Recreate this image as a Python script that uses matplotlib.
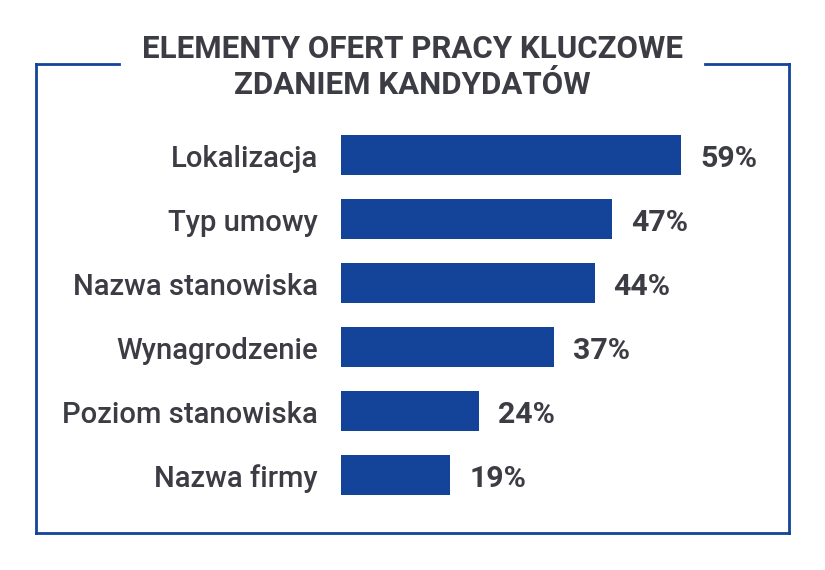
import matplotlib.pyplot as plt
from matplotlib.lines import Line2D

plt.rcParams["font.family"] = ["Roboto", "DejaVu Sans"]

categories = ["Lokalizacja", "Typ umowy", "Nazwa stanowiska", "Wynagrodzenie",
              "Poziom stanowiska", "Nazwa firmy"]
values = [59, 47, 44, 37, 24, 19]
title_lines = ["ELEMENTY OFERT PRACY KLUCZOWE", "ZDANIEM KANDYDATÓW"]

blue = "#13449a"
text_col = "#3c3c44"

W, H = 825, 570
fig = plt.figure(figsize=(W / 100, H / 100), dpi=100)
fig.patch.set_facecolor("white")

# axes placed in pixel terms: bars start at x=341, 59% ends at x=681
left, right = 341, 341 + 80 * 340 / 59
top, bottom = 135, 495
ax = fig.add_axes([left / W, (H - bottom) / H, (right - left) / W, (bottom - top) / H])
ax.set_xlim(0, 80)
ax.set_ylim(len(values) - 1 + 0.3125, -0.3125)
ax.axis("off")

ypos = list(range(len(values)))
ax.barh(ypos, values, height=0.625, color=blue)

unit = 59 / 340  # data units per pixel
for y, cat, v in zip(ypos, categories, values):
    ax.text(-23 * unit, y + 0.18, cat, ha="right", va="baseline",
            fontsize=21.1, fontweight="medium", color=text_col, clip_on=False)
    ax.text(v + 19 * unit, y + 0.18, f"{v}%", ha="left", va="baseline",
            fontsize=21.8, fontweight="bold", color=text_col, clip_on=False)

# frame with gap for the title
def px(x, y):
    return x / W, (H - y) / H

lw = 2
for (x0, y0), (x1, y1) in [((119, 64), (36, 64)), ((36, 64), (36, 533)),
                           ((36, 533), (789, 533)), ((789, 533), (789, 64)),
                           ((789, 64), (705, 64))]:
    a, b = px(x0, y0)
    c, d = px(x1, y1)
    fig.add_artist(Line2D([a, c], [b, d], color=blue, lw=lw, transform=fig.transFigure))

fig.text(413 / W, (H - 57.5) / H, title_lines[0], ha="center", va="baseline",
         fontsize=22.5, fontweight="bold", color=text_col)
fig.text(412 / W, (H - 94) / H, title_lines[1], ha="center", va="baseline",
         fontsize=22.5, fontweight="bold", color=text_col)

fig.savefig("out.png", dpi=100, facecolor="white")
